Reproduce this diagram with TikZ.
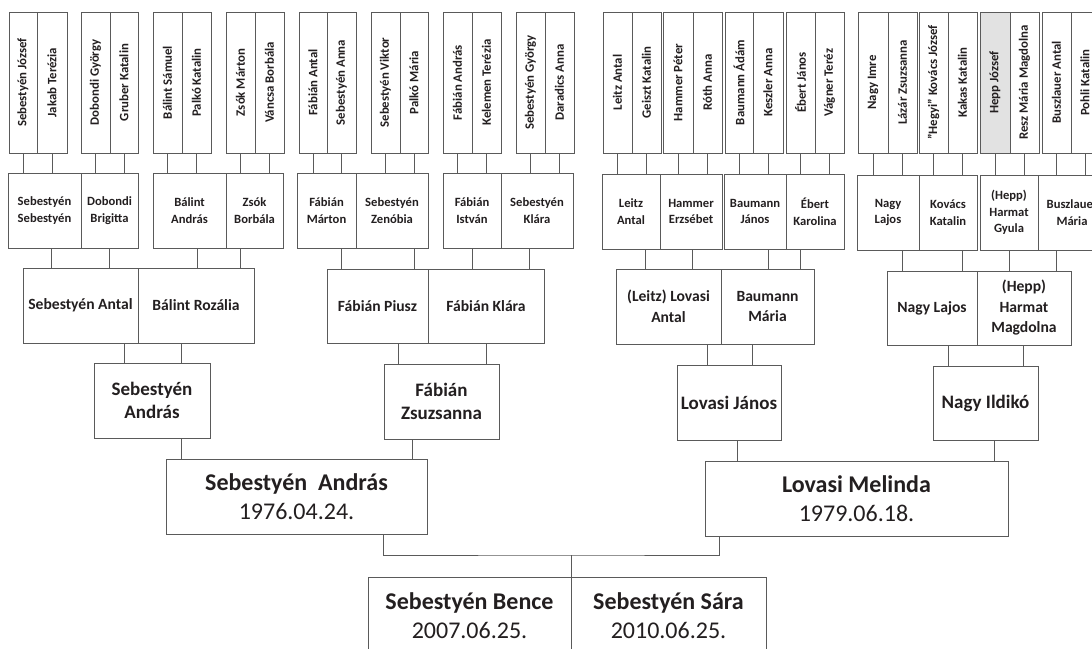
\documentclass[tikz,border=0pt]{standalone}
\usepackage{fontspec}
\setmainfont{Carlito}
\usepackage{graphicx}
\usetikzlibrary{calc}
\definecolor{ink}{HTML}{231F20}
\definecolor{edge}{HTML}{5A5A5A}
\definecolor{hepp}{HTML}{E2E2E2}
\tikzset{
 box/.style={draw=edge,line width=1pt,inner sep=0pt,text=ink,align=center},
 conn/.style={draw=edge,line width=1pt},
 g5/.style={font=\fontsize{12.8}{14}\selectfont\bfseries},
 g4/.style={font=\fontsize{12.6}{16.8}\selectfont\bfseries},
 g3/.style={font=\fontsize{15.6}{20.5}\selectfont\bfseries},
 g2/.style={font=\fontsize{19}{23.5}\selectfont\bfseries},
 g1/.style={font=\fontsize{24}{29.5}\selectfont\bfseries},
}
% #1 style, #2 name, #3 x1, #4 x2, #5 y1, #6 y2, #7 text
\newcommand\pbox[7][]{\node[box,#1,minimum width={(#4-#3)*1pt},minimum height={(#6-#5)*1pt}] (#2) at ({(#3+#4)/2},{(#5+#6)/2}) {#7};}
\newcommand\tb[5][]{\pbox[g5,#1]{#2}{#3}{#4}{12}{153}{\rotatebox{90}{#5}}}
\newcommand\vcc[2]{\draw[conn] (#1.south) -- (#1.south |- #2.north);}
\newcommand\vc[3]{\draw[conn] let \p1=(#1.south),\p2=(#2.north) in (#3pt,\y1) -- (#3pt,\y2);}
\begin{document}
\begin{tikzpicture}[x=1pt,y=-1pt]
\useasboundingbox (0,0) rectangle (1092,648);
\fill[white] (0,0) rectangle (1092,648);
\clip (0,0) rectangle (1092,648);
% generation 5
\tb{t1}{9}{37}{Sebestyén József}
\tb{t2}{37}{67}{Jakab Terézia}
\tb{t3}{81}{110}{Dobondi György}
\tb{t4}{110}{138}{Gruber Katalin}
\tb{t5}{153}{182}{Bálint Sámuel}
\tb{t6}{182}{211}{Palkó Katalin}
\tb{t7}{226}{255}{Zsók Márton}
\tb{t8}{255}{284}{Váncsa Borbála}
\tb{t9}{299}{327}{Fábián Antal}
\tb{t10}{327}{356}{Sebestyén Anna}
\tb{t11}{371}{400}{Sebestyén Viktor}
\tb{t12}{400}{428}{Palkó Mária}
\tb{t13}{443}{472}{Fábián András}
\tb{t14}{472}{501}{Kelemen Terézia}
\tb{t15}{516}{545}{Sebestyén György}
\tb{t16}{545}{574}{Daradics Anna}
\tb{t17}{603}{632}{Leitz Antal}
\tb{t18}{632}{661}{Geiszt Katalin}
\tb{t19}{663}{693}{Hammer Péter}
\tb{t20}{693}{722}{Róth Anna}
\tb{t21}{725}{753}{Baumann Ádám}
\tb{t22}{753}{783}{Keszler Anna}
\tb{t23}{786}{815}{Ébert János}
\tb{t24}{815}{844}{Vágner Teréz}
\tb{t25}{858}{888}{Nagy Imre}
\tb{t26}{888}{917}{Lázár Zsuzsanna}
\tb{t27}{919}{948}{"Hegyi" Kovács József}
\tb{t28}{948}{977}{Kakas Katalin}
\tb[fill=hepp]{t29}{980}{1010}{Hepp József}
\tb{t30}{1010}{1039}{Resz Mária Magdolna}
\tb{t31}{1042}{1071}{Buszlauer Antal}
\tb{t32}{1071}{1099}{Pohli Katalin}
% generation 4
\pbox[g4]{f1}{8}{81}{173}{248}{Sebestyén\\Sebestyén}
\pbox[g4]{f2}{81}{138}{173}{248}{Dobondi\\Brigitta}
\pbox[g4]{f3}{153}{226}{173}{248}{Bálint\\András}
\pbox[g4]{f4}{226}{283}{173}{248}{Zsók\\Borbála}
\pbox[g4]{f5}{297}{356}{173}{248}{Fábián\\Márton}
\pbox[g4]{f6}{356}{428}{173}{248}{Sebestyén\\Zenóbia}
\pbox[g4]{f7}{443}{501}{173}{248}{Fábián\\István}
\pbox[g4]{f8}{501}{573}{173}{248}{Sebestyén\\Klára}
\pbox[g4]{f9}{602}{660}{174}{249}{Leitz\\Antal}
\pbox[g4]{f10}{660}{722}{174}{249}{Hammer\\Erzsébet}
\pbox[g4]{f11}{724}{786}{174}{249}{Baumann\\János}
\pbox[g4]{f12}{786}{844}{174}{249}{Ébert\\Karolina}
\pbox[g4]{f13}{857}{919}{175}{250}{Nagy\\Lajos}
\pbox[g4]{f14}{919}{977}{175}{250}{Kovács\\Katalin}
\pbox[g4]{f15}{980}{1038}{175}{250}{(Hepp)\\Harmat\\Gyula}
\pbox[g4]{f16}{1038}{1106}{175}{250}{Buszlauer\\Mária}
% generation 3
\pbox[g3]{e1}{23}{138}{268}{343}{Sebestyén Antal}
\pbox[g3]{e2}{138}{254}{268}{343}{Bálint Rozália}
\pbox[g3]{e3}{327}{428}{269}{343}{Fábián Piusz}
\pbox[g3]{e4}{428}{544}{269}{343}{Fábián Klára}
\pbox[g3]{e5}{616}{721}{269}{344}{(Leitz) Lovasi\\Antal}
\pbox[g3]{e6}{721}{814}{269}{344}{Baumann\\Mária}
\pbox[g3]{e7}{887}{977}{271}{345}{Nagy Lajos}
\pbox[g3]{e8}{977}{1071}{271}{345}{(Hepp)\\Harmat\\Magdolna}
% generation 2
\pbox[g2]{d1}{94}{210}{363}{438}{Sebestyén\\András}
\pbox[g2]{d2}{384}{499}{364}{439}{Fábián\\Zsuzsanna}
\pbox[g2]{d3}{677}{781}{365}{440}{Lovasi János}
\pbox[g2]{d4}{933}{1038}{366}{440}{Nagy Ildikó}
% generation 1
\pbox[g1]{c1}{166}{427}{459}{534}{Sebestyén\ \ András\\{\mdseries 1976.04.24.}}
\pbox[g1]{c2}{705}{1008}{461}{536}{Lovasi Melinda\\{\mdseries 1979.06.18.}}
% generation 0
\pbox[g1]{b1}{368}{571}{577}{654}{Sebestyén Bence\\{\mdseries 2007.06.25.}}
\pbox[g1]{b2}{571}{766}{577}{654}{Sebestyén Sára\\{\mdseries 2010.06.25.}}
% connectors top -> gen4
\vcc{t1}{f1}\vcc{t2}{f1}\vcc{t3}{f2}\vcc{t4}{f2}
\vcc{t5}{f3}\vcc{t6}{f3}\vcc{t7}{f4}\vcc{t8}{f4}
\vcc{t9}{f5}\vcc{t10}{f5}\vcc{t11}{f6}\vcc{t12}{f6}
\vcc{t13}{f7}\vcc{t14}{f7}\vcc{t15}{f8}\vcc{t16}{f8}
\vcc{t17}{f9}\vcc{t18}{f9}\vcc{t19}{f10}\vcc{t20}{f10}
\vcc{t21}{f11}\vcc{t22}{f11}\vcc{t23}{f12}\vcc{t24}{f12}
\vcc{t25}{f13}\vcc{t26}{f13}\vcc{t27}{f14}\vcc{t28}{f14}
\vcc{t29}{f15}\vcc{t30}{f15}\vcc{t31}{f16}\vcc{t32}{f16}
% gen4 -> gen3
\vc{f1}{e1}{51}\vc{f2}{e1}{109}\vc{f3}{e2}{197}\vc{f4}{e2}{240}
\vc{f5}{e3}{341}\vc{f6}{e3}{414}\vc{f7}{e4}{472}\vc{f8}{e4}{529}
\vc{f9}{e5}{645}\vc{f10}{e5}{692}\vc{f11}{e6}{768}\vc{f12}{e6}{800}
\vc{f13}{e7}{902}\vc{f14}{e7}{962}\vc{f15}{e8}{1009}\vc{f16}{e8}{1056}
% gen3 -> gen2
\vc{e1}{d1}{124}\vc{e2}{d1}{181}\vc{e3}{d2}{398}\vc{e4}{d2}{486}
\vc{e5}{d3}{707}\vc{e6}{d3}{752}\vc{e7}{d4}{948}\vc{e8}{d4}{1023}
% gen2 -> gen1
\vc{d1}{c1}{181}\vc{d2}{c1}{412}\vc{d3}{c2}{737}\vc{d4}{c2}{994}
% gen1 -> gen0
\coordinate (j) at (571,555);
\draw[conn] let \p1=(c1.south),\p2=(c2.south) in (383pt,\y1) |- (j) -| (719pt,\y2);
\draw[conn] (j) -- (j |- b1.north);
\end{tikzpicture}
\end{document}
